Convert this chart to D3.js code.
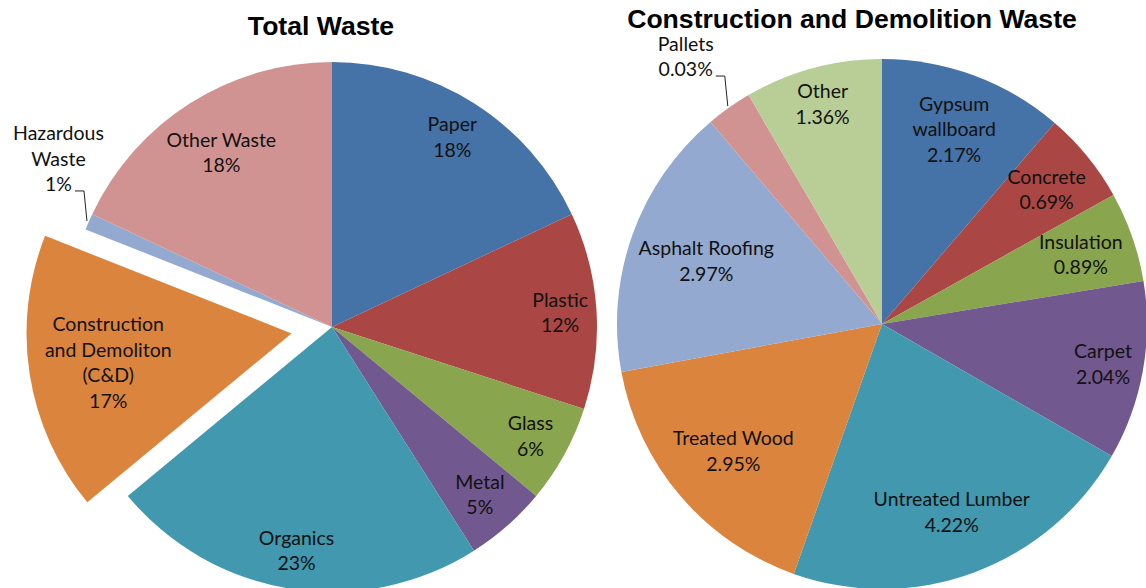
<!DOCTYPE html>
<html lang="en">
<head>
<meta charset="utf-8">
<title>Total Waste / C&amp;D Waste</title>
<script src="https://cdn.jsdelivr.net/npm/d3@7/dist/d3.min.js"></script>
<style>
  * { margin: 0; padding: 0; }
  body { background: #fff; }
  svg { display: block; }
  .lbl { font-family: Lato, "Open Sans", sans-serif; font-size: 19.5px; fill: #111; }
  .ttl { font-family: "Liberation Sans", Arial, sans-serif; font-weight: bold; font-size: 26.6px; fill: #000; }
</style>
</head>
<body>
<div id="chart"></div>
<script>
  // ---- data ----
  const totalCats   = ["Paper", "Plastic", "Glass", "Metal", "Organics",
                       "Construction|and Demoliton|(C&D)", "Hazardous|Waste", "Other Waste"];
  const totalValues = [18, 12, 6, 5, 23, 17, 1, 18];
  const totalLabels = ["18%", "12%", "6%", "5%", "23%", "17%", "1%", "18%"];

  const cdCats   = ["Gypsum|wallboard", "Concrete", "Insulation", "Carpet", "Untreated Lumber",
                    "Treated Wood", "Asphalt Roofing", "Pallets", "Other"];
  // slice sizes as drawn (share of the pie), labels as printed
  const cdValues = [11.3, 5.6, 5.5, 10.9, 22.1, 16.7, 16.7, 2.8, 8.4];
  const cdLabels = ["2.17%", "0.69%", "0.89%", "2.04%", "4.22%", "2.95%", "2.97%", "0.03%", "1.36%"];

  const palette = ["#4572A7", "#AA4643", "#89A54E", "#71588F", "#4198AF",
                   "#DB843D", "#93A9CF", "#D19392", "#B9CD96"];

  const W = 1146, H = 588, R = 265;
  const lineH = 25.5;

  const svg = d3.select("#chart").append("svg")
      .attr("width", W).attr("height", H);

  function drawPie(opt) {
    const data = opt.cats.map((c, i) => ({ cat: c, v: opt.values[i], lab: opt.labels[i], i: i }));
    const pie = d3.pie().sort(null).value(d => d.v);
    const arc = d3.arc().innerRadius(0).outerRadius(R);
    const total = d3.sum(opt.values);

    const g = svg.append("g").attr("transform", `translate(${opt.cx},${opt.cy})`);

    const arcs = pie(data);
    arcs.forEach(a => {
      const mid = (a.startAngle + a.endAngle) / 2;
      const off = a.data.i === opt.explode ? opt.explodeBy : 0;
      a.ox = Math.sin(mid) * off;
      a.oy = -Math.cos(mid) * off;
      a.mid = mid;
    });

    g.selectAll("path.slice")
      .data(arcs)
      .join("path")
        .attr("class", "slice")
        .attr("transform", d => `translate(${d.ox},${d.oy})`)
        .attr("d", arc)
        .attr("fill", d => palette[d.data.i]);

    arcs.forEach(a => {
      const lines = a.data.cat.split("|").concat([a.data.lab]);
      const n = lines.length;
      const t = g.append("text").attr("class", "lbl").attr("text-anchor", "middle");
      lines.forEach((s, k) => {
        t.append("tspan").attr("x", 0)
          .attr("y", (k - (n - 1) / 2) * lineH)
          .attr("dy", "0.35em")
          .text(s);
      });

      const share = a.data.v / total * 100;
      if (share < 4) {
        // outside label with leader line
        const px = Math.sin(a.mid) * (R + 2) + a.ox;
        const py = -Math.cos(a.mid) * (R + 2) + a.oy;
        const ex = px - 3, ey = py - 30;
        const sx = ex - 9;
        g.append("path")
          .attr("d", `M${px},${py}L${ex},${ey}L${sx},${ey}`)
          .attr("fill", "none").attr("stroke", "#222").attr("stroke-width", 1);
        const lastW = t.select("tspan:last-child").node().getComputedTextLength();
        const tx = sx - 3 - lastW / 2;
        const ty = ey - 6.5 - (n - 1) / 2 * lineH;
        t.attr("transform", `translate(${tx},${ty})`);
      } else {
        // inside label: push out as far as the box still fits in the circle
        const bb = t.node().getBBox();
        const hw = bb.width / 2, hh = bb.height / 2;
        let r = R * 0.87;
        for (; r > R * 0.3; r -= 1) {
          const cx = Math.sin(a.mid) * r, cy = -Math.cos(a.mid) * r;
          const far = Math.hypot(Math.abs(cx) + hw, Math.abs(cy) + hh);
          if (far <= R - opt.margin) break;
        }
        const lx = Math.sin(a.mid) * r + a.ox;
        const ly = -Math.cos(a.mid) * r + a.oy;
        t.attr("transform", `translate(${lx},${ly})`);
      }
    });

    svg.append("text").attr("class", "ttl")
      .attr("x", opt.tx).attr("y", opt.ty)
      .attr("text-anchor", "middle")
      .text(opt.title);
  }

  drawPie({ cats: totalCats, values: totalValues, labels: totalLabels,
            cx: 332, cy: 327, explode: 5, explodeBy: 41, margin: 6,
            title: "Total Waste", tx: 321, ty: 35 });

  drawPie({ cats: cdCats, values: cdValues, labels: cdLabels,
            cx: 882, cy: 324, explode: -1, explodeBy: 0, margin: 6,
            title: "Construction and Demolition Waste", tx: 852, ty: 28 });
</script>
</body>
</html>
